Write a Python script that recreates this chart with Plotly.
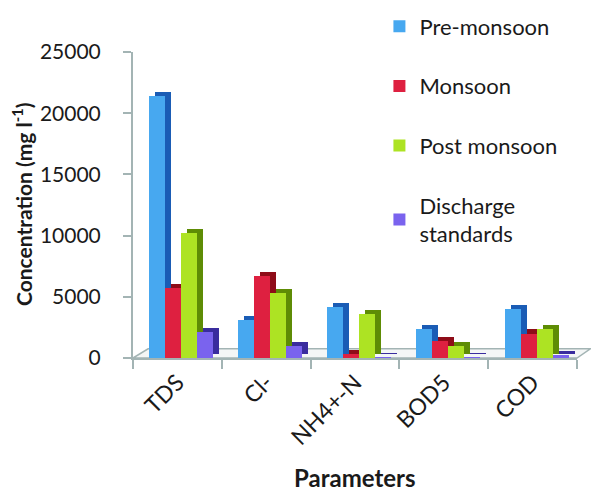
import plotly.graph_objects as go

# Parameters measured and concentration per season (mg/l)
parameters = ["TDS", "Cl-", "NH4+-N", "BOD5", "COD"]
pre_monsoon = [21400, 3100, 4200, 2400, 4000]
monsoon = [5700, 6700, 300, 1400, 2000]
post_monsoon = [10200, 5300, 3600, 1000, 2400]
discharge_standards = [2100, 1000, 50, 30, 250]

series_names = ["Pre-monsoon", "Monsoon", "Post monsoon", "Discharge<br>standards"]
series_values = [pre_monsoon, monsoon, post_monsoon, discharge_standards]
front_colors = ["#47A8F0", "#DE2040", "#ADE323", "#7A63EE"]
side_colors = ["#1A5CB5", "#8E0C18", "#5E8C05", "#3A2C9E"]

y_ticks = [0, 5000, 10000, 15000, 20000, 25000]

bar_width = 0.18
left_edges = [-0.315, -0.135, 0.045, 0.225]
depth_x = 0.068     # category units
depth_y = 330       # value units

FONT = "Lato"
TXT = "#1A1A1A"

fig = go.Figure()
for name, vals, fc, sc, off in zip(series_names, series_values,
                                   front_colors, side_colors, left_edges):
    # depth face (side + top) behind the front face
    fig.add_trace(go.Bar(
        x=parameters, y=vals, base=depth_y, width=bar_width,
        offset=off + depth_x, marker=dict(color=sc, line=dict(width=0)),
        showlegend=False, legendgroup=name, hoverinfo="skip",
    ))
    fig.add_trace(go.Bar(
        x=parameters, y=vals, width=bar_width, offset=off, name=name,
        marker=dict(color=fc, line=dict(width=0)), legendgroup=name,
    ))

axis_col = "#A3B4B4"

# thin floor plate under the bars
fig.add_shape(type="path", xref="paper", yref="paper", layer="below",
              path="M 0 0 L 0.034 0.03 L 1.03 0.03 L 1.0 0 Z",
              line=dict(color=axis_col, width=1.5), fillcolor="#F4F6F6")

# axis titles
fig.add_annotation(text="<b>Concentration (mg l<sup>-1</sup>)</b>",
                   xref="paper", yref="paper", x=-0.25, y=0.5,
                   xanchor="center", yanchor="middle",
                   textangle=-90, showarrow=False,
                   font=dict(family=FONT, size=21, color=TXT))
fig.add_annotation(text="<b>Parameters</b>",
                   xref="paper", yref="paper", x=0.5, y=-0.39,
                   xanchor="center", yanchor="middle", showarrow=False,
                   font=dict(family=FONT, size=24, color=TXT))

fig.update_layout(
    width=591, height=489,
    margin=dict(l=133, r=14, t=52, b=131, autoexpand=False),
    barmode="overlay", bargap=0,
    paper_bgcolor="white", plot_bgcolor="white",
    font=dict(family=FONT, color=TXT),
    showlegend=True,
    legend=dict(x=0.555, y=1.152, xanchor="left", yanchor="top",
                traceorder="grouped", tracegroupgap=28, maxheight=450,
                font=dict(family=FONT, size=22, color=TXT),
                bgcolor="rgba(0,0,0,0)"),
    xaxis=dict(
        type="category", tickson="boundaries", ticks="outside", ticklen=9,
        tickcolor=axis_col, tickwidth=2, showline=True, linecolor=axis_col,
        linewidth=2, tickangle=-45, showgrid=False, automargin=False,
        tickfont=dict(family=FONT, size=23, color=TXT),
    ),
    yaxis=dict(
        range=[0, 25000], tickvals=y_ticks,
        ticktext=[str(v) for v in y_ticks],
        ticks="outside", ticklen=8, tickcolor=axis_col, tickwidth=2,
        ticklabelstandoff=18,
        showline=True, linecolor=axis_col, linewidth=2, showgrid=False,
        zeroline=False, automargin=False,
        tickfont=dict(family=FONT, size=21, color=TXT),
    ),
)

fig.write_html("out.html")
